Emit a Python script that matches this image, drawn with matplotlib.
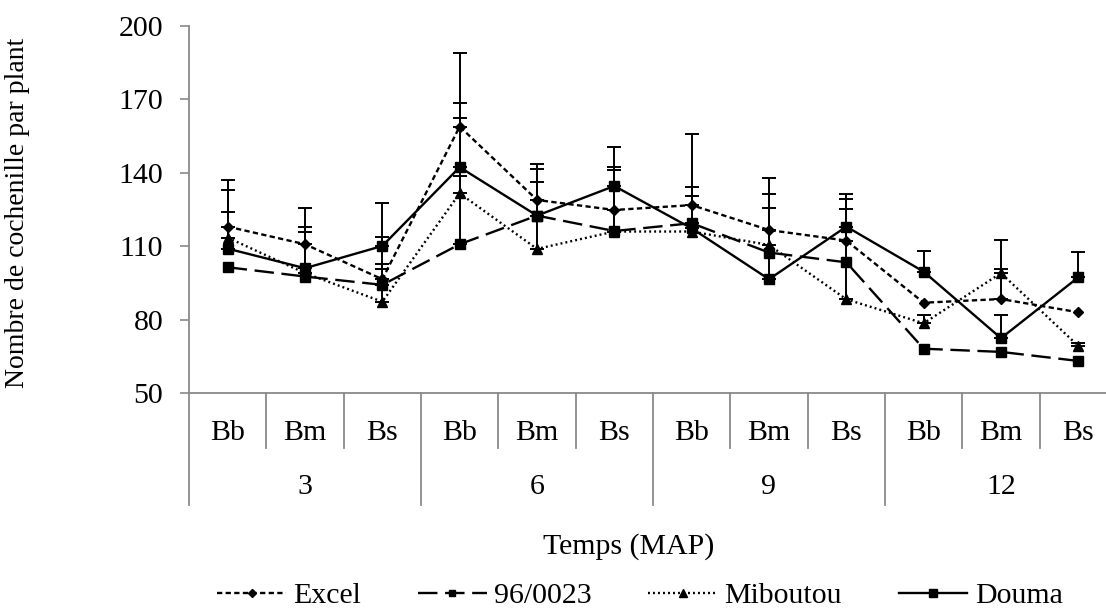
import matplotlib
matplotlib.use("Agg")
import matplotlib.pyplot as plt
import matplotlib.transforms as mtransforms
import numpy as np

plt.rcParams['font.family'] = ['Liberation Serif', 'DejaVu Serif']
plt.rcParams['lines.scale_dashes'] = False

# ---- data ----
categories = ['Bb', 'Bm', 'Bs'] * 4
groups = ['3', '6', '9', '12']
series_names = ['Excel', '96/0023', 'Miboutou', 'Douma']

excel = [118.0, 110.8, 96.5, 158.9, 128.9, 124.8, 126.8, 116.6, 112.3, 86.9, 88.4, 83.0]
v96 = [101.4, 97.6, 94.2, 110.8, 122.5, 116.2, 119.4, 107.4, 103.4, 68.1, 66.8, 63.1]
miboutou = [113.5, 99.0, 87.3, 131.6, 108.9, 116.0, 116.0, 110.5, 88.3, 78.5, 99.0, 69.2]
douma = [109.0, 101.0, 110.1, 142.3, 122.5, 134.6, 117.3, 96.5, 118.0, 99.6, 72.4, 97.3]

excel_err = [14.9, 15.0, 17.3, 9.5, 14.6, 17.7, 7.5, 21.4, 17.0, 0.0, 12.3, 0.0]
v96_err = [0.0, 0.0, 6.4, 51.7, 0.0, 0.0, 36.5, 0.0, 0.0, 0.0, 0.0, 0.0]
miboutou_err = [10.4, 16.9, 15.4, 7.2, 27.5, 25.2, 0.0, 20.7, 36.8, 3.4, 13.5, 1.3]
douma_err = [28.2, 16.7, 17.4, 46.5, 18.9, 16.1, 13.4, 29.2, 13.5, 8.6, 9.5, 10.2]

yticks = [50, 80, 110, 140, 170, 200]

W, H = 1106, 614
fig = plt.figure(figsize=(W / 100, H / 100), dpi=100)
ax_left, ax_right, ax_top, ax_bottom = 189, 1117, 26, 393
ax = fig.add_axes([ax_left / W, 1 - ax_bottom / H, (ax_right - ax_left) / W, (ax_bottom - ax_top) / H])

x = np.arange(len(categories))
FS = 21.5
FSY = 20
GRAY = '#898989'

styles = [
    dict(ls=(0, (3.8, 2.4)), marker='D', ms=5.5),
    dict(ls=(0, (14, 5.5)), marker='s', ms=6.5),
    dict(ls=(0, (1.4, 2.2)), marker='^', ms=7),
    dict(ls='-', marker='s', ms=7.5),
]
data = [excel, v96, miboutou, douma]
errs = [excel_err, v96_err, miboutou_err, douma_err]

for name, vals, err, st in zip(series_names, data, errs, styles):
    vals = np.array(vals)
    err = np.array(err)
    m = err > 0
    ax.errorbar(x[m], vals[m], yerr=[np.zeros(m.sum()), err[m]], fmt='none',
                ecolor='black', elinewidth=1.4, capsize=5, capthick=1.4, zorder=2)
    ax.plot(x, vals, color='black', lw=1.7, linestyle=st['ls'], marker=st['marker'],
            ms=st['ms'], mfc='black', mec='black', label=name, zorder=3,
            dash_capstyle='butt')

ax.set_xlim(-0.5, len(categories) - 0.5)
ax.set_ylim(50, 200)
ax.set_yticks(yticks)
ax.tick_params(axis='y', direction='out', length=6.5, width=1.2, color=GRAY,
               labelsize=FS, pad=12)
ax.tick_params(axis='x', bottom=False, labelbottom=False)
for s in ['top', 'right']:
    ax.spines[s].set_visible(False)
for s in ['left', 'bottom']:
    ax.spines[s].set_color(GRAY)
    ax.spines[s].set_linewidth(1.3)

ax.set_ylabel('Nombre de cochenille par plant', fontsize=FSY)
ax.yaxis.set_label_coords((30 - ax_left) / (ax_right - ax_left), 0.49)

# multi-level category axis
hpx = ax_bottom - ax_top
trans = mtransforms.blended_transform_factory(ax.transData, ax.transAxes)
y_short = -(448 - ax_bottom) / hpx
y_long = -(505 - ax_bottom) / hpx
y_cat = -(433 - ax_bottom) / hpx
y_grp = -(487 - ax_bottom) / hpx
for i in range(len(categories) + 1):
    xb = i - 0.5
    yend = y_long if i % 3 == 0 else y_short
    ax.plot([xb, xb], [0, yend], color=GRAY, lw=1.3, transform=trans, clip_on=False)
for i, c in enumerate(categories):
    ax.text(i, y_cat, c, transform=trans, ha='center', va='center', fontsize=FS)
for g, name in enumerate(groups):
    ax.text(3 * g + 1, y_grp, name, transform=trans, ha='center', va='center', fontsize=FS)

fig.text(629 / W, 1 - 547 / H, 'Temps (MAP)', ha='center', va='center', fontsize=FS)

leg = fig.legend(loc='center', bbox_to_anchor=(640 / W, 1 - 596 / H), ncol=4,
                 frameon=False, fontsize=FS, handlelength=2.3, handletextpad=0.25,
                 columnspacing=1.9, numpoints=1, markerscale=0.75,
                 borderpad=0.1)

fig.savefig('out.png', dpi=100)
